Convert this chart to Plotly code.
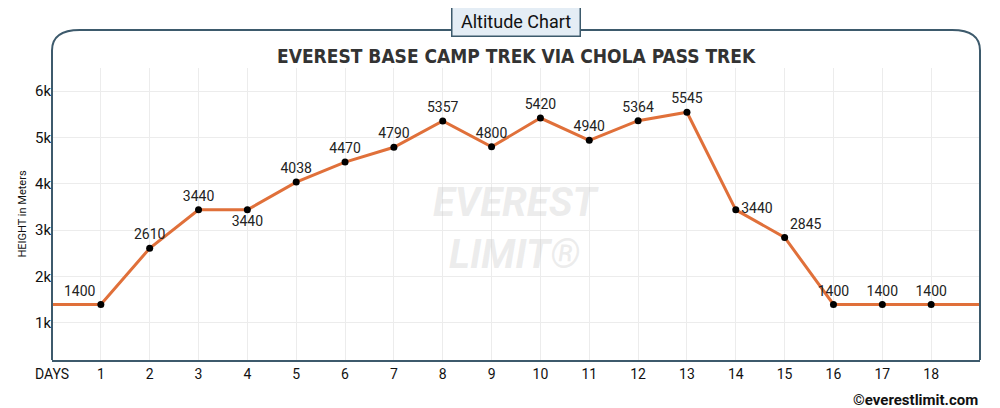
import plotly.graph_objects as go

days = list(range(1, 19))
heights = [1400, 2610, 3440, 3440, 4038, 4470, 4790, 5357, 4800, 5420, 4940, 5364, 5545, 3440, 2845, 1400, 1400, 1400]
positions = ["top left", "top center", "top center", "bottom center", "top center", "top center", "top center",
             "top center", "top center", "top center", "top center", "top center", "top center",
             "middle right", "top right", "top center", "top center", "top center"]
tick_vals = [0] + days
tick_text = ["DAYS"] + [str(d) for d in days]

fig = go.Figure()
fig.add_trace(go.Scatter(x=[0] + days + [19], y=[heights[0]] + heights + [heights[-1]], mode="lines",
                         line=dict(color="#e0703a", width=3), hoverinfo="skip"))
fig.add_trace(go.Scatter(x=days, y=heights, mode="markers+text", text=[str(h) for h in heights],
                         textposition=positions, textfont=dict(family="Roboto", size=14, color="#222"),
                         marker=dict(color="black", size=7)))

fig.add_annotation(x=0.5, y=0.45, xref="paper", yref="paper", text="<b><i>EVEREST<br>LIMIT®</i></b>",
                   showarrow=False, font=dict(family="Roboto", size=40, color="rgba(200,200,200,0.35)"))
# frame
fig.add_shape(type="path", xref="paper", yref="paper",
              path="M 0,0 L 0,1.06 Q 0,1.13 0.03,1.13 L 0.97,1.13 Q 1,1.13 1,1.06 L 1,0",
              line=dict(color="#3d5a6c", width=2))
fig.add_annotation(x=0.5, y=1.16, xref="paper", yref="paper", text=" Altitude Chart ", showarrow=False,
                   font=dict(family="Roboto", size=18, color="#111"), bgcolor="#e4edf5",
                   bordercolor="#3d5a6c", borderwidth=1.5, borderpad=4, yanchor="middle")
fig.add_annotation(x=0.5, y=1.04, xref="paper", yref="paper", text="<b>EVEREST BASE CAMP TREK VIA CHOLA PASS TREK</b>",
                   showarrow=False, font=dict(family="DejaVu Sans Condensed", size=19, color="#333"), yanchor="middle")
fig.add_annotation(x=1.0, y=-0.10, xref="paper", yref="paper", text="<b>©everestlimit.com</b>", showarrow=False,
                   xanchor="right", yanchor="top", font=dict(family="Roboto", size=15, color="#111"))

fig.update_xaxes(range=[0, 19], tickvals=tick_vals, ticktext=tick_text, showgrid=True, gridcolor="#ececec",
                 zeroline=False, showline=True, linecolor="#3d5a6c", linewidth=2, automargin=False,
                 tickfont=dict(family="Roboto", size=14, color="#111"))
fig.update_yaxes(range=[200, 6500], tickvals=[1000, 2000, 3000, 4000, 5000, 6000], automargin=False,
                 ticktext=["1k", "2k", "3k", "4k", "5k", "6k"], showgrid=True, gridcolor="#ececec", zeroline=False,
                 title=dict(text="HEIGHT in Meters", font=dict(family="Roboto", size=11, color="#111"), standoff=6),
                 tickfont=dict(family="Roboto", size=15, color="#111"))
fig.update_layout(width=984, height=400, margin=dict(l=44, r=12, t=60, b=48), showlegend=False,
                  plot_bgcolor="white", paper_bgcolor="white")
fig.write_html("out.html")
